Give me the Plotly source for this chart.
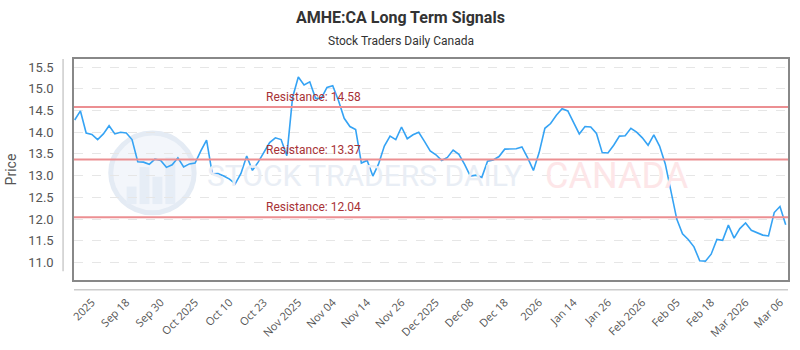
import plotly.graph_objects as go

prices = [14.28, 14.49, 13.98, 13.95, 13.83, 13.96, 14.15, 13.96, 14.00, 13.98,
          13.83, 13.32, 13.31, 13.26, 13.38, 13.35, 13.19, 13.25, 13.41, 13.20,
          13.27, 13.29, 13.57, 13.82, 13.04, 13.05, 12.99, 12.92, 12.81, 13.05,
          13.45, 13.12, 13.31, 13.53, 13.76, 13.87, 13.83, 13.46, 14.80, 15.27,
          15.09, 15.16, 14.78, 14.78, 15.03, 15.07, 14.73, 14.32, 14.13, 14.06,
          13.29, 13.35, 12.99, 13.27, 13.68, 13.91, 13.83, 14.12, 13.85, 13.94,
          14.00, 13.79, 13.57, 13.48, 13.35, 13.42, 13.59, 13.49, 13.26, 12.99,
          13.01, 12.96, 13.33, 13.36, 13.44, 13.61, 13.61, 13.62, 13.66, 13.41,
          13.12, 13.53, 14.09, 14.20, 14.39, 14.54, 14.49, 14.24, 13.96, 14.13,
          14.12, 13.97, 13.53, 13.52, 13.70, 13.91, 13.92, 14.09, 14.00, 13.87,
          13.70, 13.94, 13.68, 13.27, 12.62, 12.00, 11.66, 11.53, 11.36, 11.04,
          11.03, 11.19, 11.53, 11.51, 11.86, 11.56, 11.78, 11.91, 11.74, 11.69,
          11.63, 11.61, 12.15, 12.29, 11.87]
index = list(range(len(prices)))

tick_positions = list(range(3, 124, 6))
tick_labels = ["2025", "Sep 18", "Sep 30", "Oct 2025", "Oct 10", "Oct 23",
               "Nov 2025", "Nov 04", "Nov 14", "Nov 26", "Dec 2025", "Dec 08",
               "Dec 18", "2026", "Jan 14", "Jan 26", "Feb 2026", "Feb 05",
               "Feb 18", "Mar 2026", "Mar 06"]

resistance_levels = [14.58, 13.37, 12.04]
label_x = 33.1

FONT = "Roboto"

fig = go.Figure()

fig.add_trace(go.Scatter(x=index, y=prices, mode="lines",
                         line=dict(color="#35a3f4", width=1.6),
                         hoverinfo="skip", showlegend=False))

shapes = []
annotations = []

# watermark
shapes.append(dict(type="circle", xref="paper", yref="paper", layer="below",
                   x0=(108 - 71) / 719, x1=(192 - 71) / 719,
                   y0=(286 - 217) / 227, y1=(286 - 135) / 227,
                   line=dict(color="#e4ebf4", width=5), fillcolor="#f3f6fb"))
for bx0, bx1, btop in [(124, 134, 190), (137, 147, 170), (150, 160, 180), (163, 173, 160)]:
    shapes.append(dict(type="rect", xref="paper", yref="paper", layer="below",
                       x0=(bx0 - 71) / 719, x1=(bx1 - 71) / 719,
                       y0=(286 - 208) / 227, y1=(286 - btop) / 227,
                       line=dict(width=0), fillcolor="#e6edf6"))
annotations.append(dict(text="STOCK TRADERS DAILY", xref="paper", yref="paper",
                        x=(203 - 71) / 719, y=(286 - 179) / 227, xanchor="left", yanchor="middle",
                        showarrow=False, font=dict(family=FONT, size=30, color="#e9eef5")))
annotations.append(dict(text="CANADA", xref="paper", yref="paper",
                        x=(543 - 71) / 719, y=(286 - 179) / 227, xanchor="left", yanchor="middle",
                        showarrow=False, font=dict(family=FONT, size=36, color="#fde6e8")))

for lvl in resistance_levels:
    shapes.append(dict(type="line", xref="paper", yref="y", x0=0, x1=1, y0=lvl, y1=lvl,
                       line=dict(color="#ec8f92", width=2)))
    annotations.append(dict(text=f"Resistance: {lvl:.2f}", x=label_x, y=lvl, xref="x", yref="y",
                            xanchor="left", yanchor="bottom", showarrow=False, yshift=1,
                            font=dict(family=FONT, size=12, color="#a83236")))

# outer axis lines
shapes.append(dict(type="line", xref="paper", yref="paper",
                   x0=(60 - 71) / 719, x1=(60 - 71) / 719, y0=(286 - 277) / 227, y1=1,
                   line=dict(color="#cccccc", width=1.5)))
shapes.append(dict(type="line", xref="paper", yref="paper",
                   x0=0, x1=1, y0=(286 - 296) / 227, y1=(286 - 296) / 227,
                   line=dict(color="#cccccc", width=1.5)))

annotations.append(dict(text="<b>AMHE:CA Long Term Signals</b>", xref="paper", yref="paper",
                        x=(400 - 71) / 719, y=(286 - 16) / 227, xanchor="center", yanchor="middle",
                        showarrow=False, font=dict(family=FONT, size=16, color="#333333")))
annotations.append(dict(text="Stock Traders Daily Canada", xref="paper", yref="paper",
                        x=(400 - 71) / 719, y=(286 - 41) / 227, xanchor="center", yanchor="middle",
                        showarrow=False, font=dict(family=FONT, size=12, color="#333333")))

fig.update_layout(
    width=800, height=350,
    margin=dict(l=71, r=10, t=59, b=64),
    paper_bgcolor="white", plot_bgcolor="white",
    shapes=shapes, annotations=annotations,
    font=dict(family=FONT),
    xaxis=dict(range=[-0.12, 124.4], tickmode="array", tickvals=tick_positions,
               ticktext=tick_labels, tickangle=-45, showgrid=False, zeroline=False,
               showline=True, mirror=True, linecolor="#888888", linewidth=1.5,
               ticks="outside", ticklen=10, tickcolor="rgba(0,0,0,0)",
               tickfont=dict(family="Open Sans", size=11, color="#555555")),
    yaxis=dict(range=[10.596, 15.686], tickmode="array",
               tickvals=[11.0, 11.5, 12.0, 12.5, 13.0, 13.5, 14.0, 14.5, 15.0, 15.5],
               ticktext=["11.0", "11.5", "12.0", "12.5", "13.0", "13.5", "14.0", "14.5", "15.0", "15.5"],
               showgrid=True, gridcolor="#e6e6e6", griddash="dash", gridwidth=1,
               zeroline=False, showline=True, mirror=True, linecolor="#888888", linewidth=1.5,
               ticks="outside", ticklen=16, tickcolor="rgba(0,0,0,0)",
               tickfont=dict(family=FONT, size=13, color="#555555"),
               title=dict(text="Price", font=dict(family=FONT, size=14, color="#555555"), standoff=8)),
)

fig.write_html("out.html")
